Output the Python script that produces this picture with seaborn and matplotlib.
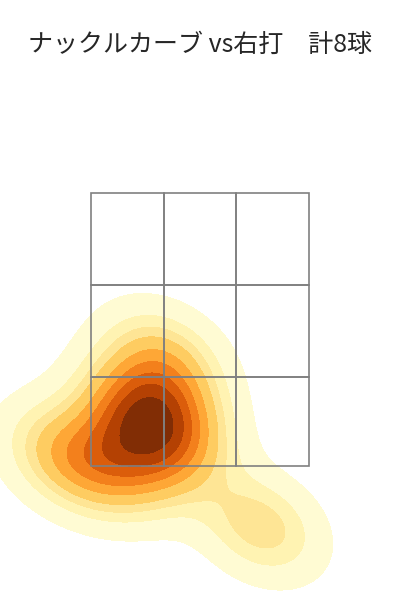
import matplotlib
matplotlib.use("Agg")
import matplotlib.pyplot as plt
import seaborn as sns
import pandas as pd

# 投球位置 (ft)
plate_x = [-0.53, -0.21, -0.40, -0.34, -0.72, 0.46, -0.27, -1.05]
plate_z = [1.85, 1.78, 1.58, 2.02, 1.47, 1.04, 2.32, 1.58]

# ストライクゾーン 3x3
zone_x = [-0.83, -0.277, 0.277, 0.83]
zone_z = [1.50, 2.178, 2.879, 3.58]

title = "ナックルカーブ vs右打　計8球"

sns.set_style("white")
plt.rcParams['font.family'] = ['Noto Sans CJK JP', 'DejaVu Sans']

df = pd.DataFrame({"plate_x": plate_x, "plate_z": plate_z})

fig = plt.figure(figsize=(4, 6), dpi=100)
ax = fig.add_axes([0, 0, 1, 1])

sns.kdeplot(data=df, x="plate_x", y="plate_z", fill=True, cmap="YlOrBr",
            levels=10, thresh=0.05, ax=ax)

# ゾーンの枠
for i in range(3):
    for j in range(3):
        ax.add_patch(plt.Rectangle((zone_x[i], zone_z[j]),
                                   zone_x[i + 1] - zone_x[i],
                                   zone_z[j + 1] - zone_z[j],
                                   fill=False, edgecolor="gray", lw=1.2))

ax.set_xlim(-1.523, 1.523)
ax.set_ylim(0.48, 0.48 + 600 / 131.3)
ax.axis("off")

fig.text(0.5, 0.925, title, ha="center", va="center", fontsize=18)

fig.savefig("out.png", dpi=100)
